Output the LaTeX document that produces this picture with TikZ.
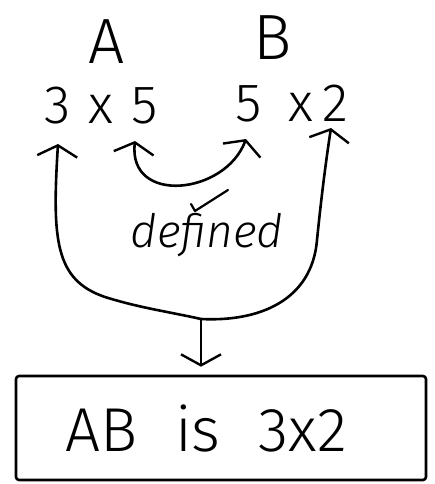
\documentclass[tikz,border=0pt]{standalone}
\usepackage{fontspec}
\setmainfont{Fira Sans Light}
\usetikzlibrary{arrows.meta}
\tikzset{
  ink/.style={line width=2.6pt, line cap=round, line join=round},
  chev/.tip={Straight Barb[length=11pt,width=40pt,line width=2.4pt]},
  lbl/.style={inner sep=0pt, anchor=center},
}
\begin{document}
\begin{tikzpicture}[x=1pt,y=-1pt]
\useasboundingbox (0,0) rectangle (435,484);
% labels
\node[lbl, font=\fontsize{64}{64}\selectfont] (A) at (107,42) {A};
\node[lbl, font=\fontsize{64}{64}\selectfont] (B) at (273,38) {B};
\node[lbl, font=\fontsize{54}{54}\selectfont] (dA) at (101,106) {3\,\,x\,\,5};
\node[lbl, font=\fontsize{54}{54}\selectfont] (dB) at (292,104) {5\,\,\,x\,2};
\node[lbl, font=\fontsize{46}{46}\selectfont\itshape] (def) at (207,235) {defined};
\node[ink, draw, rounded corners=3pt, minimum width=410pt, minimum height=104pt,
      font=\fontsize{62}{62}\selectfont] (res) at (221,428) {AB\,\, is\,\, 3x2\hspace*{30pt}};
% free ends
\coordinate (a5) at (135,141);
\coordinate (b5) at (246,139);
\coordinate (a3) at (58,144);
\coordinate (b2) at (331,128);
\coordinate (bot) at (201,319);
% inner matching arrow
\draw[ink, chev-chev] (a5) .. controls (128,205) and (225,195) .. (b5);
% outer arrow
\draw[ink, chev-chev] (a3) .. controls (52,240) and (55,280) .. (105,297)
  .. controls (140,308) and (170,312) .. (bot)
  .. controls (260,322) and (312,300) .. (317,240)
  .. controls (321,200) and (326,160) .. (b2);
% tick
\draw[ink, line width=2.2pt] (191,204) -- (195,211) -- (228,190);
% down arrow
\draw[ink, -chev, shorten >=8pt] (bot) -- (res.north -| bot);
\end{tikzpicture}
\end{document}
